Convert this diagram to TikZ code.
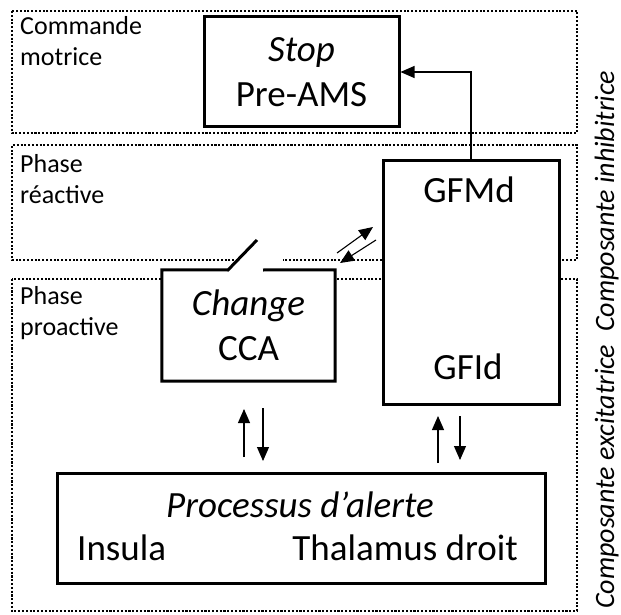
\documentclass[tikz,border=0pt]{standalone}
\usepackage{fontspec}
\setmainfont{Carlito}
\usetikzlibrary{arrows.meta}
\begin{document}
\begin{tikzpicture}[x=1pt,y=-1pt,
  frame/.style={line width=2.1pt, dash pattern=on 2.1pt off 1.7pt},
  box/.style={draw, line width=3pt, fill=white, inner sep=0pt},
  big/.style={font=\fontsize{37}{45}\selectfont},
  txt/.style={big, inner sep=0pt},
  lab/.style={font=\fontsize{26}{31}\selectfont, align=left, anchor=base west, inner sep=0pt},
  rot/.style={font=\fontsize{28}{34}\selectfont\itshape, rotate=90, anchor=base west, inner sep=0pt},
  arr/.style={line width=1.1pt, -{Triangle[length=14pt,width=12pt]}},
]
\useasboundingbox (0,0) rectangle (621,615);
% dotted frames
\draw[frame] (12,11) rectangle (577,133);
\draw[frame] (238,260) -- (12,260) -- (12,145) -- (577,145) -- (577,260) -- (283,260);
\draw[frame] (12,279) rectangle (577,611);
% labels of frames (anchor = baseline of the last line)
\node[lab] (lcm) at (20,66) {Commande\\motrice};
\node[lab] (lre) at (20,203) {Phase\\réactive};
\node[lab] (lpr) at (20,335) {Phase\\proactive};
\node[rot] (exc) at (614,609) {Composante excitatrice};
\node[rot] (inh) at (614,332) {Composante inhibitrice};
% Stop box
\node[box, big, align=center, minimum width=195pt, minimum height=110pt] (stop) at (301.5,72) {\textit{Stop}\\Pre-AMS};
% CCA box with switch
\node[fill=white, inner sep=0pt, big, align=center, minimum width=173pt, minimum height=111pt] (cca) at (248.5,325.5) {\textit{Change}\\CCA};
\draw[line width=3pt, line join=miter] (257,240) -- (228,270) -- (cca.north west) -- (cca.south west) -- (cca.south east) -- (cca.north east) -- (263,270);
% GFMd / GFId box
\node[box, minimum width=176pt, minimum height=244pt] (gf) at (471,282) {};
\node[txt, anchor=base] (gfmd) at (469,202) {GFMd};
\node[txt, anchor=base] (gfid) at (468,379) {GFId};
% Processus box
\node[box, minimum width=488pt, minimum height=110pt] (proc) at (301,528) {};
\node[txt, anchor=base west] (ptitle) at (166,517) {\textit{Processus d’alerte}};
\node[txt, anchor=base west] (insula) at (77,560) {Insula};
\node[txt, anchor=base east] (thal) at (518,560) {Thalamus droit};
% connectors
\draw[arr] (gf.north) |- (stop.east);
\coordinate (a1) at (244,457); \coordinate (b1) at (244,409);
\coordinate (a2) at (263,408); \coordinate (b2) at (263,461);
\coordinate (a3) at (438,463); \coordinate (b3) at (438,416);
\coordinate (a4) at (460,416); \coordinate (b4) at (460,460);
\coordinate (d1) at (337,253); \coordinate (e1) at (373,227);
\coordinate (d2) at (376,240); \coordinate (e2) at (340,263);
\draw[arr] (a1) -- (b1);
\draw[arr] (a2) -- (b2);
\draw[arr] (a3) -- (b3);
\draw[arr] (a4) -- (b4);
\draw[arr] (d1) -- (e1);
\draw[arr] (d2) -- (e2);
\end{tikzpicture}
\end{document}
